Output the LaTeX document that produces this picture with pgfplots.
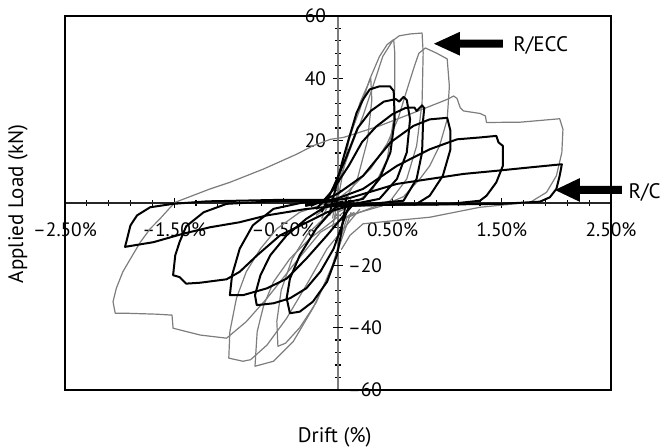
\documentclass[border=0pt]{standalone}
\usepackage{pgfplots}
\pgfplotsset{compat=1.18}
\usepackage{fontspec}
\setmainfont{PT Sans}
\definecolor{ecc}{RGB}{125,125,125}
\begin{document}
\begin{tikzpicture}
\begin{axis}[
  scale only axis, width=273pt, height=187pt,
  xmin=-2.5, xmax=2.5, ymin=-60, ymax=60,
  axis lines=middle,
  axis line style={-, line width=0.7pt},
  x axis line style={black!85},
  y axis line style={ecc},
  xtick={-2.5,-1.5,-0.5,0.5,1.5,2.5},
  xticklabels={–2.50\%,–1.50\%,–0.50\%,0.50\%,1.50\%,2.50\%},
  minor xtick={-2.3,-2.1,-1.9,-1.7,-1.3,-1.1,-0.9,-0.7,-0.3,-0.1,0.1,0.3,0.7,0.9,1.1,1.3,1.7,1.9,2.1,2.3},
  ytick={20,40,60},
  yticklabels={20,40,60},
  extra y ticks={-20,-40,-60},
  extra y tick labels={–20,–40,–60},
  extra y tick style={yticklabel style={anchor=west, xshift=4pt}},
  minor ytick={-56,-52,-48,-44,-36,-32,-28,-24,-16,-12,-8,-4,4,8,12,16,24,28,32,36,44,48,52,56},
  tick style={black, line width=0.6pt},
  major tick length=5pt, minor tick length=3pt,
  tick label style={font=\fontsize{9.7}{11}\selectfont},
  xticklabel style={yshift=-4pt},
  clip=false,
  every axis plot/.append style={line join=round},
]
% ---------- R/ECC (grey) ----------
\addplot[ecc, line width=0.6pt] coordinates {(-0.05,-8) (0.02,5) (0.1,20) (0.2,32) (0.3,40) (0.31,33) (0.27,20) (0.18,8) (0.05,0) (-0.05,-6)};
\addplot[ecc, line width=0.6pt] coordinates {(-0.05,-5) (0.0,5) (0.05,14) (0.11,21.5) (0.20,30) (0.29,39.6) (0.38,47) (0.45,50.8) (0.51,52.4) (0.52,48.1) (0.52,37.4) (0.51,26.8) (0.45,14) (0.32,4.5) (0.17,0.2) (0.0,-3)};
\addplot[ecc, line width=0.6pt] coordinates {(-0.15,-5) (-0.02,4) (0.12,18) (0.23,28) (0.32,37.4) (0.41,47) (0.5,52) (0.56,53.6) (0.66,54.2) (0.77,54.5) (0.78,48.1) (0.77,32.1) (0.72,18.3) (0.63,7.7) (0.48,0.7) (0.2,-3) (0.0,-6)};
\addplot[ecc, line width=0.6pt] coordinates {(-0.2,-4) (0.1,4) (0.3,11) (0.45,19) (0.55,27) (0.62,35) (0.69,42.8) (0.74,48) (0.8,49.7) (0.90,48.1) (1.0,46.2) (1.02,37.4) (1.0,26.8) (0.93,18.3) (0.84,11.9) (0.75,7.7) (0.6,2) (0.4,-1) (0.1,-4)};
\addplot[ecc, line width=0.6pt] coordinates {(-1.49,0.2) (-1.17,4.5) (-0.99,6.6) (-0.68,10.9) (-0.38,15.6) (-0.23,18.3) (-0.07,20.4) (0.05,21) (0.38,24.7) (0.69,28.9) (1.0,33.2) (1.06,34.3) (1.09,33.5) (1.12,30.5) (1.15,29.5) (1.30,28.7) (1.35,27.9) (1.36,25.8) (1.67,25.9) (2.03,27.0) (2.06,23.6) (2.05,16.2) (2.0,8.7) (1.91,3.4) (1.76,0.2) (1.3,-1.4) (0.84,-4.6) (0.54,-5.6) (0.23,-6.7) (0.11,-10.4) (0.03,-15)};
\addplot[ecc, line width=0.6pt] coordinates {(0.15,-3) (-0.16,-9.4) (-0.41,-20) (-0.65,-30.6) (-0.84,-38.1) (-1.02,-43.4) (-1.26,-42.4) (-1.51,-40.2) (-1.52,-36) (-1.66,-35.7) (-1.94,-35.4) (-2.04,-35.4) (-2.06,-31.7) (-2.03,-27.4) (-1.97,-22.1) (-1.90,-17.9) (-1.81,-12.6) (-1.72,-8.3) (-1.63,-5.1) (-1.55,-2) (-1.49,0.2)};
\addplot[ecc, line width=0.6pt] coordinates {(0.2,-2) (-0.10,-14.7) (-0.29,-26.4) (-0.47,-37) (-0.65,-45.6) (-0.80,-50.3) (-0.87,-50.8) (-1.0,-49.8) (-0.99,-41.3) (-0.93,-30.6) (-0.84,-22.1) (-0.71,-14.7) (-0.56,-8.3) (-0.35,-3) (-0.1,0) (0.1,2)};
\addplot[ecc, line width=0.6pt] coordinates {(0.12,-3) (-0.07,-22.1) (-0.23,-33.8) (-0.41,-44.5) (-0.59,-50.8) (-0.76,-52.4) (-0.74,-41.3) (-0.68,-32.8) (-0.59,-25.3) (-0.44,-17.9) (-0.26,-11.5) (-0.10,-7.2) (0.05,-3)};
\addplot[ecc, line width=0.6pt] coordinates {(0.08,-5) (-0.05,-20) (-0.2,-32) (-0.35,-40) (-0.48,-45) (-0.55,-46) (-0.56,-38) (-0.52,-28) (-0.42,-18) (-0.28,-10) (-0.1,-4) (0.05,-1)};
% ---------- R/C (black) ----------
\addplot[black, line width=1pt] coordinates {(-0.08,-4) (-0.02,5) (0.03,12) (0.08,18.3) (0.17,28.9) (0.23,33.2) (0.29,36.4) (0.38,37.4) (0.476,37.4) (0.51,35.9) (0.52,26.8) (0.48,16.2) (0.38,7.7) (0.23,1.3) (0.05,0) (-0.05,-1)};
\addplot[black, line width=1pt] coordinates {(-0.15,-3) (-0.03,6) (0.08,15) (0.18,24) (0.3,29.5) (0.42,32.5) (0.53,33.3) (0.56,32.5) (0.60,34.0) (0.63,33) (0.66,26.8) (0.63,16.2) (0.54,7.7) (0.38,1.3) (0.15,-0.3) (-0.05,-1)};
\addplot[black, line width=1pt] coordinates {(-0.2,-2) (-0.05,4) (0.1,12) (0.22,19.5) (0.35,24.5) (0.5,28.5) (0.62,30.5) (0.7,30.6) (0.72,29.5) (0.77,31.3) (0.79,30.4) (0.78,26.8) (0.77,16.2) (0.72,7.7) (0.60,0.7) (0.3,-0.3) (0.0,-1)};
\addplot[black, line width=1pt] coordinates {(-0.25,-1) (0.0,3) (0.23,8.7) (0.48,19.4) (0.69,24.7) (0.84,26.8) (1.0,27.3) (1.03,23.1) (1.03,17.2) (0.96,8.7) (0.84,2.3) (0.72,-0.3) (0.4,-0.6) (0.0,-1)};
\addplot[black, line width=1pt] coordinates {(-0.3,-1) (0.0,1.5) (0.23,4.5) (0.54,11.9) (0.84,17.2) (1.09,20.4) (1.30,21.0) (1.45,21.5) (1.47,19.4) (1.51,18.3) (1.51,11.9) (1.45,6.6) (1.36,2.3) (1.30,0.7) (1.0,-0.4) (0.5,-0.6) (0.0,-1)};
\addplot[black, line width=1pt] coordinates {(-0.3,-0.5) (0.1,1.5) (0.54,6.1) (1.15,9.3) (1.45,10.3) (1.76,11.4) (2.05,12.4) (2.03,8.7) (2.0,4.5) (1.94,1.8) (1.85,0.4) (1.5,-0.3) (1.0,-0.5) (0.3,-0.6) (0.0,-1)};
\addplot[black, line width=1pt] coordinates {(0.08,2) (0.02,-11.5) (-0.01,-16.8) (-0.10,-25.3) (-0.23,-31.7) (-0.35,-34.9) (-0.44,-35.4) (-0.47,-30.6) (-0.44,-24.3) (-0.35,-16.8) (-0.20,-8.3) (-0.04,-1.9) (0.05,0)};
\addplot[black, line width=1pt] coordinates {(0.12,1) (-0.04,-14.7) (-0.16,-22) (-0.29,-27.4) (-0.44,-30.6) (-0.59,-32.2) (-0.744,-32.8) (-0.76,-29.6) (-0.71,-23.2) (-0.62,-16.8) (-0.47,-10.4) (-0.29,-5.1) (-0.10,-0.9) (0.05,0.5)};
\addplot[black, line width=1pt] coordinates {(0.15,0) (-0.10,-10.4) (-0.29,-17.9) (-0.47,-24.3) (-0.65,-27.4) (-0.87,-29.6) (-0.99,-29.6) (-0.97,-23.2) (-0.90,-14.7) (-0.78,-7.2) (-0.59,-1.9) (-0.3,0.3) (0.0,0.5)};
\addplot[black, line width=1pt] coordinates {(0.2,0) (-0.1,-3) (-0.3,-6.5) (-0.53,-10.4) (-0.74,-16.8) (-0.90,-22.1) (-1.02,-24.5) (-1.26,-25.6) (-1.39,-25.9) (-1.45,-23.8) (-1.51,-23.2) (-1.49,-16.8) (-1.45,-12.5) (-1.39,-7.5) (-1.23,-3) (-1.02,-0.3) (-0.6,0.5) (0.0,0.8)};
\addplot[black, line width=1pt] coordinates {(0.25,0) (-0.3,-2) (-0.65,-4) (-0.9,-6.2) (-1.17,-7.8) (-1.42,-9.9) (-1.69,-12.6) (-1.95,-14.1) (-1.92,-10) (-1.90,-7.2) (-1.84,-4) (-1.72,-1.4) (-1.51,-0.3) (-1.2,0.5) (-0.5,1.0) (0.0,1.0)};
% ---------- frame, labels, arrows ----------
\draw[black, line width=0.8pt] (rel axis cs:0,0) rectangle (rel axis cs:1,1);
\node[rotate=90, font=\fontsize{10.5}{12}\selectfont] at (axis cs:-2.93,-0.3) {Applied Load (kN)};
\node[font=\fontsize{10.5}{12}\selectfont] at (axis cs:-0.03,-75.2) {Drift (\%)};
\fill[black] (axis cs:0.879,51.07) -- (axis cs:1.117,54.90) -- (axis cs:1.117,52.35) -- (axis cs:1.511,52.35) -- (axis cs:1.511,49.79) -- (axis cs:1.117,49.79) -- (axis cs:1.117,47.24) -- cycle;
\node[anchor=west, inner sep=0pt, font=\fontsize{10.5}{12}\selectfont] at (axis cs:1.603,50.4) {R/ECC};
\fill[black] (axis cs:1.987,4.15) -- (axis cs:2.216,7.98) -- (axis cs:2.216,5.43) -- (axis cs:2.60,5.43) -- (axis cs:2.60,2.87) -- (axis cs:2.216,2.87) -- (axis cs:2.216,0.32) -- cycle;
\node[anchor=east, inner sep=0pt, font=\fontsize{10.5}{12}\selectfont] at (axis cs:2.958,3.5) {R/C};
\coordinate (BL) at (axis cs:-3.095,-78.2);
\coordinate (TR) at (axis cs:2.958,65.1);
\end{axis}
\pgfresetboundingbox
\path[use as bounding box] (BL) rectangle (TR);
\end{tikzpicture}
\end{document}
